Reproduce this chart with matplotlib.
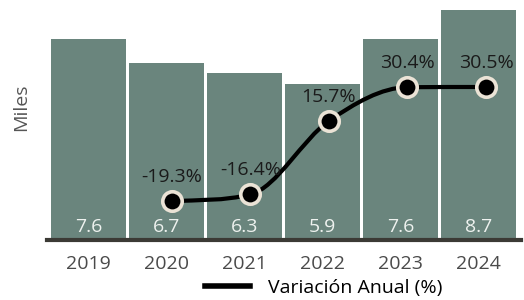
import numpy as np
import matplotlib
matplotlib.use("Agg")
from matplotlib import pyplot as plt
from matplotlib.path import Path
from matplotlib.patches import PathPatch
from matplotlib.lines import Line2D

years = ["2019", "2020", "2021", "2022", "2023", "2024"]
miles = [7.6, 6.7, 6.3, 5.9, 7.6, 8.7]
var_years = ["2020", "2021", "2022", "2023", "2024"]
var_anual = [-19.3, -16.4, 15.7, 30.4, 30.5]

plt.rcParams["font.family"] = ["Open Sans", "DejaVu Sans"]

bar_color = "#6a857d"
ring_color = "#ebe3d6"


def monotone_path(xs, ys):
    # monotone cubic (Fritsch-Carlson) drawn as bezier segments
    xs = np.asarray(xs, float)
    ys = np.asarray(ys, float)
    n = len(xs)
    d = np.diff(ys) / np.diff(xs)
    m = np.zeros(n)
    m[0], m[-1] = d[0], d[-1]
    for i in range(1, n - 1):
        if d[i - 1] * d[i] <= 0:
            m[i] = 0
        else:
            m[i] = (d[i - 1] + d[i]) / 2
    for i in range(n - 1):
        if d[i] == 0:
            m[i] = m[i + 1] = 0
            continue
        a, b = m[i] / d[i], m[i + 1] / d[i]
        s = a * a + b * b
        if s > 9:
            t = 3 / np.sqrt(s)
            m[i] = t * a * d[i]
            m[i + 1] = t * b * d[i]
    verts = [(xs[0], ys[0])]
    codes = [Path.MOVETO]
    for i in range(n - 1):
        h = (xs[i + 1] - xs[i]) / 3
        verts += [(xs[i] + h, ys[i] + m[i] * h),
                  (xs[i + 1] - h, ys[i + 1] - m[i + 1] * h),
                  (xs[i + 1], ys[i + 1])]
        codes += [Path.CURVE4] * 3
    return Path(verts, codes)


fig = plt.figure(figsize=(5.24, 3.0), dpi=100)
rect = [47 / 524, 60 / 300, 474 / 524, 235 / 300]
ax = fig.add_axes(rect)

x = np.arange(len(years))
ax.bar(x, miles, width=0.96, color=bar_color, zorder=1)
for xi, v in zip(x, miles):
    ax.text(xi, 0.3, f"{v}", ha="center", va="baseline", color="#eef2ef", fontsize=14)

ax.set_xlim(-0.53, 5.54)
ax.set_ylim(0, 8.88)
ax.set_yticks([])
ax.set_xticks(x)
ax.set_xticklabels(years, fontsize=14, color="#4a4a4a")
ax.tick_params(axis="x", length=0, pad=11)
for s in ["top", "right", "left"]:
    ax.spines[s].set_visible(False)
ax.spines["bottom"].set_color("#3b3a35")
ax.spines["bottom"].set_linewidth(3)
ax.set_ylabel("Miles", fontsize=14, color="#555555")
ax.yaxis.set_label_coords(-0.036, 0.566)

# line sits on its own axes (slightly shifted x scale, like the original)
ax2 = fig.add_axes(rect, facecolor="none")
ax2.set_xlim(-0.592, 5.446)
ax2.set_ylim(-36.3, 66.3)
ax2.axis("off")
vx = [years.index(y) for y in var_years]
ax2.add_patch(PathPatch(monotone_path(vx, var_anual), facecolor="none",
                        edgecolor="black", lw=3, zorder=2))
ax2.plot(vx, var_anual, linestyle="none", marker="o", markersize=14,
         markerfacecolor="black", markeredgecolor=ring_color,
         markeredgewidth=2.6, zorder=3)
for xi, v in zip(vx, var_anual):
    ax2.annotate(f"{v}%", (xi, v), xytext=(0, 13.7), textcoords="offset points",
                 ha="center", va="baseline", fontsize=14, color="#1a1a1a")

handle = Line2D([], [], color="black", lw=4)
fig.legend([handle], ["Variación Anual (%)"], loc="center", bbox_to_anchor=(0.618, 0.04),
           frameon=False, fontsize=14, handlelength=2.3, handletextpad=0.93,
           borderaxespad=0, borderpad=0)

fig.savefig("out.png", dpi=100)
